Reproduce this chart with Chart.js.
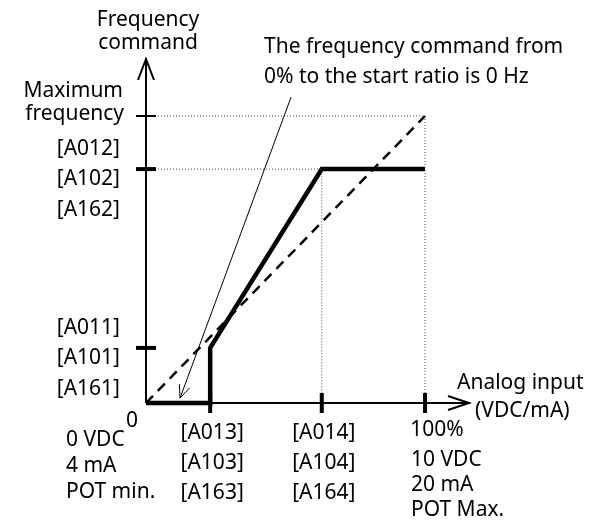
<!DOCTYPE html>
<html>
<head>
<meta charset="utf-8">
<script src="https://cdn.jsdelivr.net/npm/chart.js@4"></script>
<style>
  html, body { margin: 0; padding: 0; background: #fff; }
  #wrap { width: 600px; height: 523px; }
</style>
</head>
<body>
<div id="wrap"><canvas id="chart" width="600" height="523"></canvas></div>
<script>
// Analog input (%) vs frequency command (%)
const outputX   = [0, 23, 23, 63, 100];
const outputY   = [0, 0, 19.2, 81.5, 81.5];
const linearX   = [0, 100];
const linearY   = [0, 100];
const startRatio = 23;
const endRatio   = 63;
const startFreq  = 19.2;
const endFreq    = 81.5;
const maxFreq    = 100;

const yTickLabels = [
  { v: maxFreq,   lines: ['Maximum', 'frequency'] },
  { v: endFreq,   lines: ['[A012]', '[A102]', '[A162]'] },
  { v: startFreq, lines: ['[A011]', '[A101]', '[A161]'] }
];
const xTickLabels = [
  { v: startRatio, lines: ['[A013]', '[A103]', '[A163]'] },
  { v: endRatio,   lines: ['[A014]', '[A104]', '[A164]'] }
];
const noteLines = ['The frequency command from', '0% to the start ratio is 0 Hz'];
const noteFrom  = { x: 52, y: 106.6 };
const noteTo    = { x: 12.2, y: 1.7 };

const FONT = '21px "Noto Sans", sans-serif';
const pts = (xs, ys) => xs.map((x, i) => ({ x, y: ys[i] }));

// axes, ticks, labels and the note arrow
const diagram = {
  id: 'diagram',
  afterDatasetsDraw(chart) {
    const { ctx, scales: { x, y } } = chart;
    const X = v => x.getPixelForValue(v);
    const Y = v => y.getPixelForValue(v);
    const x0 = X(0), y0 = Y(0);
    ctx.save();
    ctx.strokeStyle = '#000';
    ctx.fillStyle = '#000';

    // y axis with arrow
    ctx.lineWidth = 2;
    ctx.beginPath();
    ctx.moveTo(x0, y0); ctx.lineTo(x0, 58);
    ctx.moveTo(x0 - 8, 80); ctx.lineTo(x0, 59); ctx.lineTo(x0 + 8, 80);
    // x axis with arrow
    ctx.moveTo(x0, y0); ctx.lineTo(470, y0);
    ctx.moveTo(448, y0 - 7); ctx.lineTo(469, y0); ctx.lineTo(448, y0 + 7);
    ctx.stroke();

    // y ticks
    ctx.lineWidth = 2;
    ctx.beginPath(); ctx.moveTo(x0 - 10, Y(maxFreq)); ctx.lineTo(x0 + 10, Y(maxFreq)); ctx.stroke();
    ctx.lineWidth = 4;
    [endFreq, startFreq].forEach(v => {
      ctx.beginPath(); ctx.moveTo(x0 - 10, Y(v)); ctx.lineTo(x0 + 10, Y(v)); ctx.stroke();
    });
    // x ticks
    [startRatio, endRatio, 100].forEach(v => {
      ctx.beginPath(); ctx.moveTo(X(v), y0 - 10); ctx.lineTo(X(v), y0 + 10); ctx.stroke();
    });

    ctx.font = FONT;
    ctx.textBaseline = 'middle';

    // axis titles
    ctx.textAlign = 'center';
    ctx.fillText('Frequency', x0 + 2, 20);
    ctx.fillText('command', x0 + 2, 43);
    ctx.textAlign = 'left';
    ctx.fillText('Analog input', 457, 383);
    ctx.fillText('(VDC/mA)', 475, 411);

    // y tick labels
    ctx.textAlign = 'right';
    ctx.fillText('Maximum', 123, Y(maxFreq) - 25);
    ctx.fillText('frequency', 124, Y(maxFreq) - 2);
    yTickLabels.slice(1).forEach(t => {
      const c = Y(t.v) + 10;
      ctx.fillText(t.lines[0], 120, c - 30);
      ctx.fillText(t.lines[1], 120, c);
      ctx.fillText(t.lines[2], 120, c + 31);
    });

    // x tick labels
    ctx.textAlign = 'center';
    xTickLabels.forEach(t => {
      t.lines.forEach((s, i) => ctx.fillText(s, X(t.v) + 2, y0 + 30 + i * 30));
    });
    ctx.fillText('0', x0 - 14, y0 + 18);
    ctx.fillText('100%', X(100) + 12, y0 + 27);
    ctx.textAlign = 'left';
    ['0 VDC', '4 mA', 'POT min.'].forEach((s, i) => ctx.fillText(s, 66, y0 + 37 + i * 26));
    ['10 VDC', '20 mA', 'POT Max.'].forEach((s, i) => ctx.fillText(s, 411, y0 + 57 + i * 25));

    // note
    ctx.fillText(noteLines[0], 264, 47);
    ctx.fillText(noteLines[1], 264, 77);

    // note arrow
    const ax = X(noteFrom.x), ay = Y(noteFrom.y), bx = X(noteTo.x), by = Y(noteTo.y);
    ctx.lineWidth = 1;
    ctx.beginPath(); ctx.moveTo(ax, ay); ctx.lineTo(bx, by); ctx.stroke();
    const ang = Math.atan2(by - ay, bx - ax);
    ctx.beginPath();
    ctx.moveTo(bx - 14 * Math.cos(ang - 0.4), by - 14 * Math.sin(ang - 0.4));
    ctx.lineTo(bx, by);
    ctx.lineTo(bx - 14 * Math.cos(ang + 0.4), by - 14 * Math.sin(ang + 0.4));
    ctx.stroke();
    ctx.restore();
  }
};

new Chart(document.getElementById('chart'), {
  type: 'scatter',
  data: {
    datasets: [
      { // guide: max frequency level and 100% input
        data: pts([0, 100, 100], [maxFreq, maxFreq, 0]),
        showLine: true, borderColor: '#444', borderWidth: 1, borderDash: [1, 2],
        pointRadius: 0, clip: false
      },
      { // guide: end frequency level and end ratio
        data: pts([0, endRatio, endRatio], [endFreq, endFreq, 0]),
        showLine: true, borderColor: '#444', borderWidth: 1, borderDash: [1, 2],
        pointRadius: 0, clip: false
      },
      { // linear reference
        data: pts(linearX, linearY),
        showLine: true, borderColor: '#000', borderWidth: 2.5, borderDash: [10, 7],
        pointRadius: 0, clip: false
      },
      { // output characteristic
        data: pts(outputX, outputY),
        showLine: true, borderColor: '#000', borderWidth: 4.5, borderJoinStyle: 'miter',
        pointRadius: 0, clip: false
      }
    ]
  },
  options: {
    responsive: false,
    animation: false,
    layout: { padding: { left: 146, right: 175, top: 116, bottom: 120 } },
    plugins: { legend: { display: false }, tooltip: { enabled: false } },
    scales: {
      x: { type: 'linear', min: 0, max: 100, display: false },
      y: { type: 'linear', min: 0, max: 100, display: false }
    }
  },
  plugins: [diagram]
});
</script>
</body>
</html>
